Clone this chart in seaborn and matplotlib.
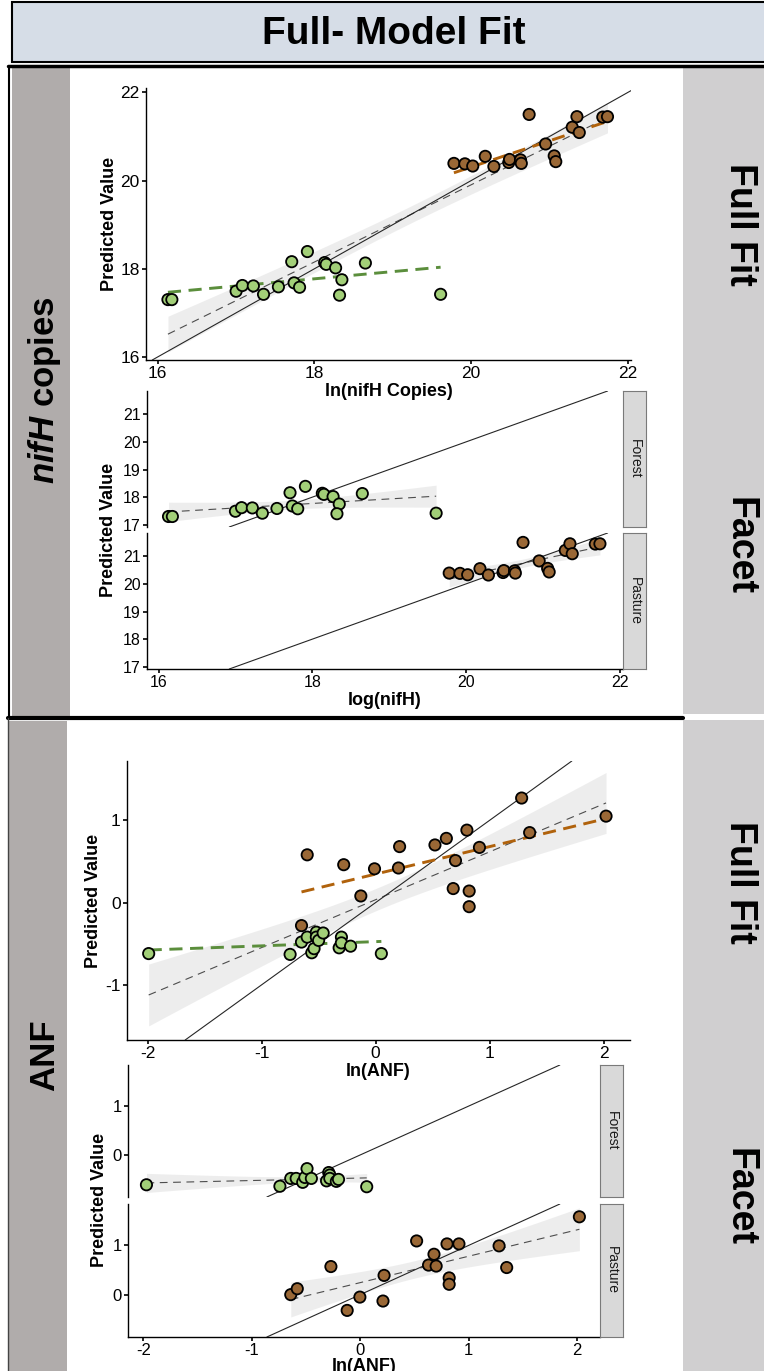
import numpy as np
import pandas as pd
import matplotlib
matplotlib.use("Agg")
import matplotlib.pyplot as plt
from matplotlib.patches import Rectangle
from matplotlib.lines import Line2D
import seaborn as sns

sns.set_theme(style="ticks")
plt.rcParams["font.family"] = ["Liberation Sans", "DejaVu Sans"]
plt.rcParams["mathtext.fontset"] = "custom"
plt.rcParams["mathtext.it"] = "Liberation Sans:italic:bold"
plt.rcParams["axes.unicode_minus"] = False
for k in ["text.color", "axes.labelcolor", "xtick.color", "ytick.color", "axes.edgecolor"]:
    plt.rcParams[k] = "black"

# ---------------- data ----------------
nifh_forest_x = [16.13, 16.18, 17.00, 17.08, 17.22, 17.35, 17.54, 17.71, 17.74, 17.81,
                 17.91, 18.13, 18.15, 18.27, 18.35, 18.32, 18.65, 19.61]
nifh_forest_y = [17.30, 17.30, 17.49, 17.62, 17.61, 17.42, 17.59, 18.16, 17.68, 17.58,
                 18.39, 18.14, 18.10, 18.02, 17.75, 17.40, 18.13, 17.42]
nifh_pasture_x = [19.78, 19.92, 20.02, 20.18, 20.29, 20.48, 20.49, 20.63, 20.64, 20.74,
                  20.95, 21.06, 21.08, 21.29, 21.35, 21.38, 21.68, 21.74]
nifh_pasture_y = [20.39, 20.38, 20.33, 20.55, 20.32, 20.41, 20.48, 20.47, 20.39, 21.50,
                  20.83, 20.56, 20.43, 21.21, 21.45, 21.09, 21.44, 21.45]

anf_forest_x = [-1.99, -0.75, -0.65, -0.60, -0.56, -0.54, -0.52, -0.52, -0.50, -0.46,
                -0.32, -0.30, -0.30, -0.22, 0.05]
anf_forest_y = [-0.62, -0.63, -0.48, -0.42, -0.61, -0.56, -0.36, -0.42, -0.46, -0.37,
                -0.55, -0.42, -0.49, -0.53, -0.62]
anf_pasture_x = [-0.65, -0.60, -0.28, -0.13, -0.01, 0.21, 0.20, 0.52, 0.62, 0.68,
                 0.70, 0.80, 0.82, 0.82, 0.91, 1.28, 1.35, 2.02]
anf_pasture_y = [-0.28, 0.58, 0.46, 0.08, 0.41, 0.68, 0.42, 0.70, 0.78, 0.17,
                 0.51, 0.88, 0.14, -0.05, 0.67, 1.27, 0.85, 1.05]

anf_forest_x_facet = [-1.97, -0.74, -0.64, -0.59, -0.53, -0.51, -0.49, -0.45, -0.31, -0.29,
                      -0.28, -0.28, -0.22, -0.20, 0.06]
anf_forest_y_facet = [-0.61, -0.64, -0.48, -0.48, -0.56, -0.46, -0.28, -0.48, -0.53, -0.36,
                      -0.41, -0.48, -0.54, -0.50, -0.65]
anf_pasture_x_facet = [-0.64, -0.58, -0.27, -0.12, -0.003, 0.21, 0.22, 0.52, 0.63, 0.68,
                       0.70, 0.80, 0.82, 0.82, 0.91, 1.28, 1.35, 2.02]
anf_pasture_y_facet = [0.00, 0.12, 0.57, -0.32, -0.05, -0.13, 0.39, 1.09, 0.60, 0.82,
                       0.58, 1.03, 0.34, 0.21, 1.03, 0.99, 0.55, 1.58]

lands = ["Forest", "Pasture"]
nifh_ticks = [16, 18, 20, 22]
nifh_facet_yticks = [17, 18, 19, 20, 21]
anf_xticks = [-2, -1, 0, 1, 2]
anf_yticks = [-1, 0, 1]
anf_facet_yticks = [0, 1]


def make_df(fx, fy, px, py):
    return pd.DataFrame({
        "x": list(fx) + list(px),
        "y": list(fy) + list(py),
        "Land": ["Forest"] * len(fx) + ["Pasture"] * len(px),
    })


df_nifh = make_df(nifh_forest_x, nifh_forest_y, nifh_pasture_x, nifh_pasture_y)
df_anf = make_df(anf_forest_x, anf_forest_y, anf_pasture_x, anf_pasture_y)
df_anf_facet = make_df(anf_forest_x_facet, anf_forest_y_facet,
                       anf_pasture_x_facet, anf_pasture_y_facet)

FILL = {"Forest": "#a2cf78", "Pasture": "#9a6836"}
LINE = {"Forest": "#5b8e3c", "Pasture": "#b0620c"}

# ---------------- figure ----------------
W, H = 764, 1371
fig = plt.figure(figsize=(W / 100, H / 100), dpi=100)


def box(x0, y0, x1, y1):
    return [x0 / W, 1 - y1 / H, (x1 - x0) / W, (y1 - y0) / H]


def rect(x0, y0, x1, y1, fc, ec="none", lw=0, z=-5):
    l, b, w, h = box(x0, y0, x1, y1)
    fig.add_artist(Rectangle((l, b), w, h, transform=fig.transFigure,
                             facecolor=fc, edgecolor=ec, linewidth=lw, zorder=z))


def hline(x0, x1, y, lw, color="black", z=-3):
    fig.add_artist(Line2D([x0 / W, x1 / W], [1 - y / H, 1 - y / H],
                          transform=fig.transFigure, color=color, lw=lw, zorder=z))


def vline(x, y0, y1, lw, color="black", z=-3):
    fig.add_artist(Line2D([x / W, x / W], [1 - y0 / H, 1 - y1 / H],
                          transform=fig.transFigure, color=color, lw=lw, zorder=z))


# frames and bands
rect(12, 2, 790, 62, "#d6dde7", ec="black", lw=1.5)
rect(12, 68, 70, 716, "#b0acab")
rect(683, 66, 764, 714, "#d0cfd0")
rect(8, 721, 67, 1371, "#b0acab")
rect(683, 720, 764, 1371, "#d0cfd0")
hline(8, 764, 66, 2.5)
hline(8, 683, 718, 3)
vline(9, 66, 718, 1.5)
vline(8, 718, 1371, 1.0, color="#444444")

# texts in bands
fig.text(394 / W, 1 - 34 / H, "Full- Model Fit", ha="center", va="center",
         fontsize=28, weight="bold")
fig.text(45 / W, 1 - 390 / H, r"$\it{nifH}$ copies", ha="center", va="center",
         rotation=90, fontsize=25, weight="bold")
fig.text(45 / W, 1 - 1055 / H, "ANF", ha="center", va="center",
         rotation=90, fontsize=25, weight="bold")
for txt, yy in [("Full Fit", 224), ("Facet", 546), ("Full Fit", 882), ("Facet", 1197)]:
    fig.text(740 / W, 1 - yy / H, txt, ha="center", va="center", rotation=-90,
             fontsize=27, weight="bold")

T975 = {13: 2.160, 16: 2.120, 31: 2.040, 34: 2.032}


def style_ax(ax, tick_size, bottom=True):
    sns.despine(ax=ax, bottom=not bottom)
    ax.patch.set_alpha(0)
    for s in ["left", "bottom"]:
        ax.spines[s].set_linewidth(1.0)
        ax.spines[s].set_color("black")
    ax.tick_params(axis="both", length=3, width=1.2, labelsize=tick_size, pad=1.5)
    if not bottom:
        ax.tick_params(axis="x", bottom=False, labelbottom=False)
    ax.set_xlabel("")
    ax.set_ylabel("")


def overall_fit(ax, d):
    x = d["x"].to_numpy(float)
    y = d["y"].to_numpy(float)
    n = len(x)
    b1, b0 = np.polyfit(x, y, 1)
    resid = y - (b0 + b1 * x)
    s = np.sqrt(np.sum(resid ** 2) / (n - 2))
    xs = np.linspace(x.min(), x.max(), 100)
    se = s * np.sqrt(1 / n + (xs - x.mean()) ** 2 / np.sum((x - x.mean()) ** 2))
    t = T975.get(n - 2, 2.05)
    fit = b0 + b1 * xs
    ax.fill_between(xs, fit - t * se, fit + t * se, color="#9a9a9a", alpha=0.17,
                    linewidth=0, zorder=1)
    sns.regplot(data=d, x="x", y="y", scatter=False, ci=None, ax=ax,
                color="#4d4d4d", line_kws=dict(lw=0.8, ls=(0, (7, 5)), zorder=2))


def points(ax, d):
    sns.scatterplot(data=d, x="x", y="y", hue="Land", palette=FILL, s=66,
                    edgecolor="black", linewidth=1.3, legend=False, ax=ax, zorder=5)


def identity(ax):
    ax.axline((0, 0), (1, 1), color="#262626", lw=0.8, zorder=3)


def full_panel(ax, d):
    overall_fit(ax, d)
    for land in lands:
        sub = d[d.Land == land]
        sns.regplot(data=sub, x="x", y="y", scatter=False, ci=None, color=LINE[land],
                    ax=ax, line_kws=dict(lw=2.1, ls=(0, (4.5, 2.6)), zorder=4))
    identity(ax)
    points(ax, d)


def facet_panel(ax, d):
    overall_fit(ax, d)
    identity(ax)
    points(ax, d)


def strip(x0, y0, x1, y1, label):
    sax = fig.add_axes(box(x0, y0, x1, y1))
    sax.set_facecolor("#d9d9d9")
    for s in sax.spines.values():
        s.set_visible(True)
        s.set_color("#7a7a7a")
        s.set_linewidth(0.8)
    sax.set_xticks([])
    sax.set_yticks([])
    sax.text(0.5, 0.5, label, rotation=-90, ha="center", va="center",
             fontsize=10, color="#1a1a1a", transform=sax.transAxes)


# ---- panel 1: nifH full fit ----
ax1 = fig.add_axes(box(146, 88, 631, 360))
full_panel(ax1, df_nifh)
style_ax(ax1, 12.5)
ax1.set_xlim(15.85, 22.04)
ax1.set_ylim(15.93, 22.1)
ax1.set_xticks(nifh_ticks)
ax1.set_yticks(nifh_ticks)
ax1.set_xlabel("ln(nifH Copies)", fontsize=13, weight="bold", labelpad=1)
ax1.set_ylabel("Predicted Value", fontsize=13, weight="bold", labelpad=1.5)

# ---- panel 2: nifH facet ----
for i, land in enumerate(lands):
    y0, y1 = [(391, 527), (533, 669)][i]
    ax = fig.add_axes(box(147, y0, 623, y1))
    facet_panel(ax, df_nifh[df_nifh.Land == land])
    style_ax(ax, 11.5, bottom=(i == 1))
    ax.set_xlim(15.85, 22.04)
    ax.set_ylim(16.92, 21.84)
    ax.set_xticks(nifh_ticks)
    ax.set_yticks(nifh_facet_yticks)
    if i == 1:
        ax.set_xlabel("log(nifH)", fontsize=13, weight="bold", labelpad=1)
    strip(623, y0, 646, y1, land)
fig.text(108 / W, 1 - 530 / H, "Predicted Value", rotation=90, ha="center",
         va="center", fontsize=13, weight="bold")

# ---- panel 3: ANF full fit ----
ax3 = fig.add_axes(box(127, 761, 630, 1040))
full_panel(ax3, df_anf)
style_ax(ax3, 12.5)
ax3.set_xlim(-2.18, 2.23)
ax3.set_ylim(-1.67, 1.72)
ax3.set_xticks(anf_xticks)
ax3.set_yticks(anf_yticks)
ax3.set_xlabel("ln(ANF)", fontsize=13, weight="bold", labelpad=1)
ax3.set_ylabel("Predicted Value", fontsize=13, weight="bold", labelpad=2)

# ---- panel 4: ANF facet ----
for i, land in enumerate(lands):
    y0, y1 = [(1065, 1197), (1204, 1337)][i]
    ax = fig.add_axes(box(128, y0, 600, y1))
    facet_panel(ax, df_anf_facet[df_anf_facet.Land == land])
    style_ax(ax, 12, bottom=(i == 1))
    ax.set_xlim(-2.14, 2.21)
    ax.set_ylim(-0.86, 1.84)
    ax.set_xticks(anf_xticks)
    ax.set_yticks(anf_facet_yticks)
    if i == 1:
        ax.set_xlabel("ln(ANF)", fontsize=13, weight="bold", labelpad=0)
    strip(600, y0, 623, y1, land)
fig.text(100 / W, 1 - 1200 / H, "Predicted Value", rotation=90, ha="center",
         va="center", fontsize=13, weight="bold")

fig.savefig("out.png", dpi=100)
